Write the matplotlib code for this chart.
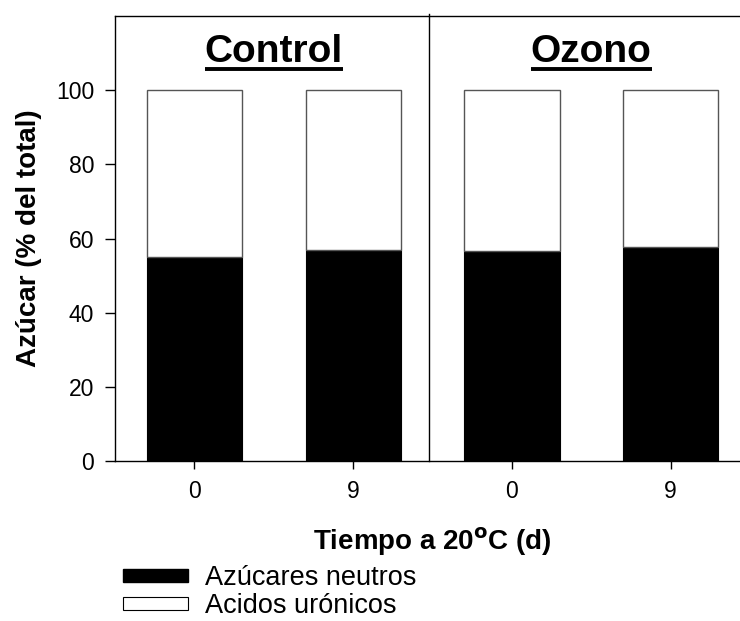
import matplotlib

matplotlib.use("Agg")
import matplotlib.pyplot as plt
from matplotlib.patches import Patch

plt.rcParams["font.family"] = ["Liberation Sans", "DejaVu Sans"]

# data
days = ["0", "9", "0", "9"]
groups = ["Control", "Ozono"]
neutros = [55.0, 56.8, 56.5, 57.8]
uronicos = [100 - v for v in neutros]

fig = plt.figure(figsize=(7.40, 6.21), dpi=100)
ax = fig.add_axes([115 / 740, 1 - 461 / 621, 635 / 740, 445 / 621])

x = list(range(len(days)))
ax.bar(x, neutros, width=0.6, color="black", edgecolor="black", linewidth=0.8)
ax.bar(x, uronicos, bottom=neutros, width=0.6, color="white",
       edgecolor="#555555", linewidth=1.0)

ax.set_xlim(-0.5, 3.5)
ax.set_ylim(0, 120)
ax.set_yticks([0, 20, 40, 60, 80, 100])
ax.set_xticks(x)
ax.set_xticklabels(days)
ax.tick_params(axis="both", labelsize=16.5, direction="out", length=7, width=1)
ax.tick_params(axis="x", pad=8, length=6)
ax.tick_params(axis="y", pad=8)
for sp in ax.spines.values():
    sp.set_linewidth(1.0)

# separator between treatments
ax.axvline(1.48, ymin=0, ymax=1.005, color="black", linewidth=1.0, clip_on=False)

ax.set_ylabel("Azúcar (% del total)", fontsize=20, fontweight="bold", labelpad=10)
ax.set_xlabel("Tiempo a 20$^{\\mathbf{o}}$C (d)", fontsize=20, fontweight="bold", labelpad=16)

# group titles, underlined
titles = []
for gx, name in zip([0.5, 2.5], groups):
    t = ax.text(gx, 107.5, name, fontsize=28, fontweight="bold",
                ha="center", va="baseline")
    titles.append(t)
fig.canvas.draw()
inv = ax.transData.inverted()
for t in titles:
    bb = t.get_window_extent()
    (x0, _), (x1, _) = inv.transform([(bb.x0, 0), (bb.x1, 0)])
    ax.plot([x0, x1], [105.8, 105.8], color="black", linewidth=2.8,
            solid_capstyle="butt")

handles = [
    Patch(facecolor="black", edgecolor="black", label="Azúcares neutros"),
    Patch(facecolor="white", edgecolor="black", linewidth=0.8, label="Acidos urónicos"),
]
fig.legend(handles=handles, loc="upper left", bbox_to_anchor=(123 / 740, 1 - 565 / 621),
           frameon=False, fontsize=19.5, handlelength=2.4, handleheight=0.37,
           handletextpad=0.63, labelspacing=0.07, borderpad=0, borderaxespad=0)

fig.savefig("out.png", dpi=100)
